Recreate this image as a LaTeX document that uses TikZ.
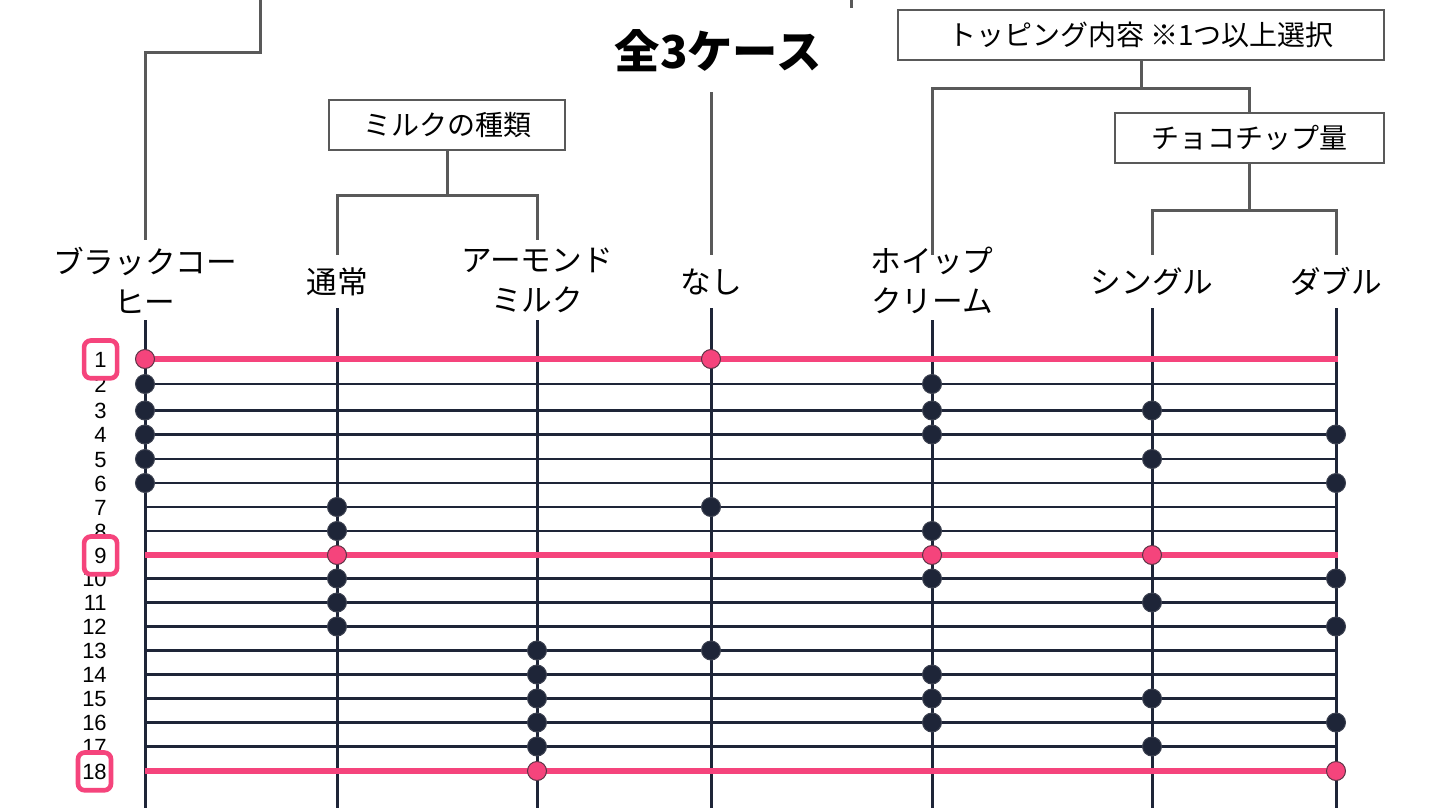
\documentclass[tikz,border=0pt]{standalone}
\usepackage{fontspec}
\setmainfont{Liberation Sans}
\newfontfamily\jp{Noto Sans CJK JP}
\definecolor{treegray}{HTML}{595959}
\definecolor{navy}{HTML}{1E2538}
\definecolor{hotpink}{HTML}{F5447C}
\definecolor{dotedge}{HTML}{3C4150}
\definecolor{pinkedge}{HTML}{5A3345}
\begin{document}
\begin{tikzpicture}[x=0.75pt,y=-0.75pt,
  tree/.style={draw=treegray, line width=2.25pt},
  cat/.style={draw=treegray, line width=1.5pt, fill=white, minimum height=38pt, inner sep=0pt, font=\jp\fontsize{21}{24}\selectfont},
  lab/.style={inner sep=0pt, minimum height=39.75pt, font=\jp\fontsize{23}{30}\selectfont},
  labtwo/.style={inner sep=0pt, minimum height=60pt, align=center, font=\jp\fontsize{23}{30}\selectfont},
  col/.style={draw=navy, line width=2.25pt},
  rowline/.style={draw=navy, line width=2pt},
  pinkline/.style={draw=hotpink, line width=4.5pt},
  dot/.style={circle, minimum size=14.25pt, inner sep=0pt, fill=navy, draw=dotedge, line width=0.75pt},
  pinkdot/.style={circle, minimum size=14.25pt, inner sep=0pt, fill=hotpink, draw=pinkedge, line width=0.75pt},
  num/.style={inner sep=0pt, anchor=base east, font=\fontsize{16.5}{19}\selectfont},
  nbox/.style={draw=hotpink, line width=3.5pt, rounded corners=5pt, fill=white, minimum width=24.75pt, minimum height=28.3pt, inner sep=0pt},
  title/.style={font=\jp\bfseries\fontsize{34}{38}\selectfont, inner sep=0pt}
]
\useasboundingbox (0,0) rectangle (1440,810);

% title
\node[title] (T) at (718,51) {全3ケース};

% category boxes
\node[cat, minimum width=177pt] (M) at (447,125) {ミルクの種類};
\node[cat, minimum width=364.5pt] (TP) at (1141,35) {トッピング内容 ※1つ以上選択};
\node[cat, minimum width=201.75pt] (CH) at (1249.5,138) {チョコチップ量};

% column labels
\node[labtwo] (L1) at (145,280) {ブラックコー\\ヒー};
\node[lab] (L2) at (337,281.5) {通常};
\node[labtwo] (L3) at (537,280) {アーモンド\\ミルク};
\node[lab] (L4) at (711,281.5) {なし};
\node[labtwo] (L5) at (932,280) {ホイップ\\クリーム};
\node[lab] (L6) at (1152,281.5) {シングル};
\node[lab] (L7) at (1336,281.5) {ダブル};

% tree connectors
\coordinate (b0) at (260,0);
\coordinate (b1) at (260,52);
\draw[tree] (b0) -- (b1) -| (L1.north);
\coordinate (t0) at (851,0);
\coordinate (t1) at (851,8);
\draw[tree] (t0) -- (t1);
\coordinate (mj) at (447,195);
\draw[tree] (M.south) -- (mj);
\draw[tree] (L2.north) |- (mj) -| (L3.north);
\coordinate (n0) at (711,92);
\draw[tree] (n0) -- (L4.north);
\coordinate (tj) at (1141,88);
\draw[tree] (TP.south) -- (tj);
\draw[tree, shorten <=-11.25pt] (L5.north) |- (tj) -| (CH.north);
\coordinate (cj) at (1249.5,210);
\draw[tree] (CH.south) -- (cj);
\draw[tree] (L6.north) |- (cj) -| (L7.north);

% column lines
\foreach \c/\x in {1/145,2/337,3/537,4/711,5/932,6/1152,7/1336}{
  \coordinate (cb\c) at (\x,808);
  \draw[col] (L\c.south) -- (cb\c);
}

% row lines
\foreach \r/\y in {1/359,2/384,3/410.5,4/434.5,5/459,6/483,7/507,8/531,9/555,10/578.5,11/602.5,12/626.5,13/650.5,14/674.5,15/698.5,16/722.5,17/746.5,18/771}{
  \coordinate (s\r) at (145,\y);
  \coordinate (e\r) at (1338,\y);
  \node[num] (n\r) at (107,\y+8) {\r};
}
\foreach \r in {2,3,4,5,6,7,8,10,11,12,13,14,15,16,17}{
  \draw[rowline] (s\r) -- (e\r);
}
\foreach \r in {1,9,18}{
  \draw[pinkline] (s\r) -- (e\r);
}

% dots
\foreach \r/\c in {2/1,2/5,3/1,3/5,3/6,4/1,4/5,4/7,5/1,5/6,6/1,6/7,
  7/2,7/4,8/2,8/5,10/2,10/5,10/7,11/2,11/6,12/2,12/7,
  13/3,13/4,14/3,14/5,15/3,15/5,15/6,16/3,16/5,16/7,17/3,17/6}{
  \node[dot] (d\r-\c) at (cb\c |- s\r) {};
}
\foreach \r/\c in {1/1,1/4,9/2,9/5,9/6,18/3,18/7}{
  \node[pinkdot] (d\r-\c) at (cb\c |- s\r) {};
}

% highlighted row numbers
\foreach \r in {1,9,18}{
  \node[nbox] (B\r) at (n\r.center) {};
  \node[num, anchor=center] at (n\r.center) {\r};
}
\end{tikzpicture}
\end{document}
